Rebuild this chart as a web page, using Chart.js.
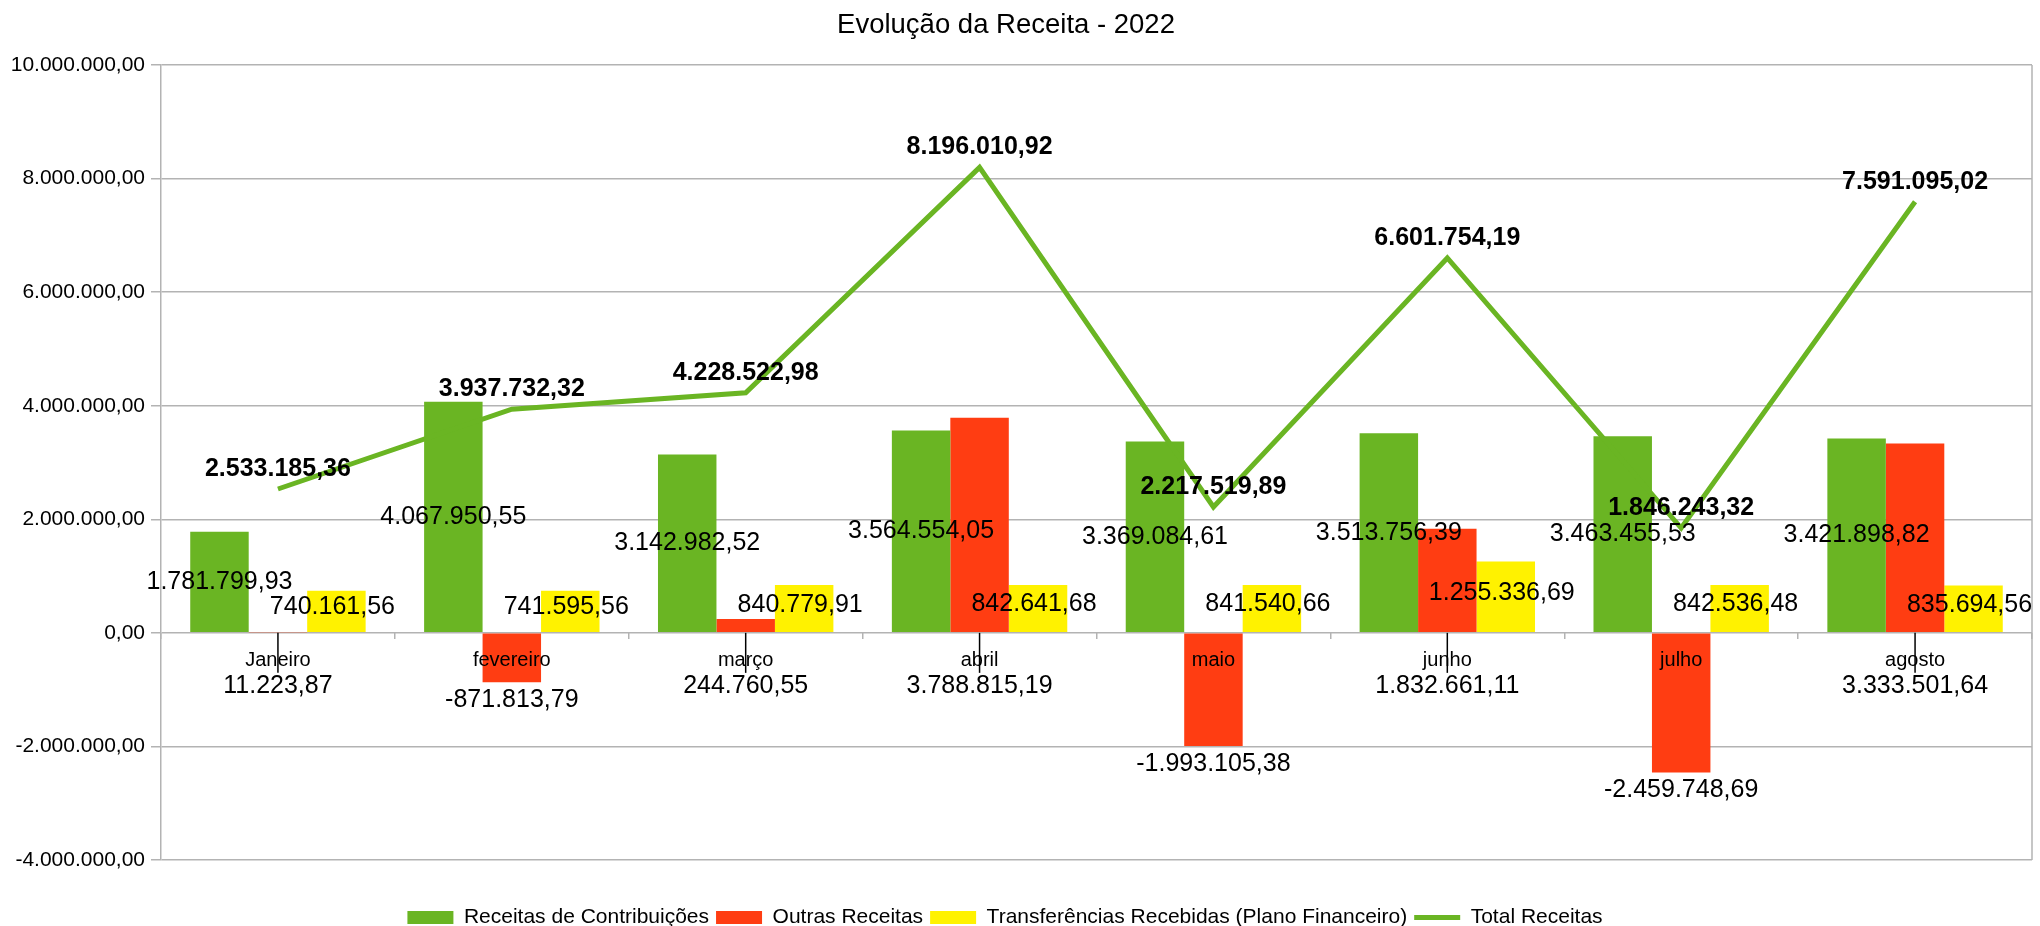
<!DOCTYPE html>
<html><head><meta charset="utf-8">
<script src="https://cdn.jsdelivr.net/npm/chart.js@4.4.1/dist/chart.umd.min.js"></script>
<style>html,body{margin:0;padding:0;background:#fff;overflow:hidden}#wrap{width:2040px;height:926px;position:relative}</style>
</head><body><div id="wrap"><canvas id="c" width="2040" height="926"></canvas></div>
<script>
const chartTitle = 'Evolução da Receita - 2022';
const months = ['Janeiro','fevereiro','março','abril','maio','junho','julho','agosto'];
const seriesNames = ['Receitas de Contribuições','Outras Receitas','Transferências Recebidas (Plano Financeiro)','Total Receitas'];
const contribuicoes = [1781799.93, 4067950.55, 3142982.52, 3564554.05, 3369084.61, 3513756.39, 3463455.53, 3421898.82];
const outras = [11223.87, -871813.79, 244760.55, 3788815.19, -1993105.38, 1832661.11, -2459748.69, 3333501.64];
const transferencias = [740161.56, 741595.56, 840779.91, 842641.68, 841540.66, 1255336.69, 842536.48, 835694.56];
const total = [2533185.36, 3937732.32, 4228522.98, 8196010.92, 2217519.89, 6601754.19, 1846243.32, 7591095.02];
const yMin = -4000000, yMax = 10000000, yStep = 2000000;

const GREEN = '#6ab523', RED = '#ff3d12', YELLOW = '#fff200', GRID = '#b3b3b3';
const FONT = '"Liberation Sans", Arial, sans-serif';

function fmt(v){
  const neg = v < 0; v = Math.abs(v);
  let [i,d] = v.toFixed(2).split('.');
  i = i.replace(/\B(?=(\d{3})+(?!\d))/g,'.');
  return (neg?'-':'') + i + ',' + d;
}

Chart.defaults.font.family = FONT;
Chart.defaults.color = '#000';

const labelPlugin = {
  id: 'valueLabels',
  afterDatasetsDraw(chart){
    const ctx = chart.ctx, ys = chart.scales.y, y0 = ys.getPixelForValue(0);
    ctx.save();
    ctx.fillStyle = '#000'; ctx.textAlign = 'center'; ctx.textBaseline = 'middle';
    chart.data.datasets.forEach((ds, di) => {
      const meta = chart.getDatasetMeta(di);
      meta.data.forEach((el, i) => {
        const v = ds.data[i], txt = fmt(v);
        let ty, tx = el.x;
        if (ds.type === 'line') {
          ctx.font = 'bold 25px ' + FONT; ty = el.y - 20;
        } else {
          ctx.font = '25px ' + FONT;
          if (di === 1) {
            if (v < 0) ty = el.y + 18;
            else {
              ty = y0 + 53;
              ctx.strokeStyle = '#000'; ctx.lineWidth = 1.5;
              ctx.beginPath(); ctx.moveTo(el.x, y0); ctx.lineTo(el.x, ty - 13); ctx.stroke();
            }
          } else if (di === 2) { ty = (el.y + el.base) / 2 - 4; tx = el.x - 4; }
          else ty = (el.y + el.base) / 2;
        }
        ctx.fillText(txt, tx, ty);
      });
    });
    ctx.restore();
  }
};

const framePlugin = {
  id: 'frame',
  afterLayout(chart){
    if (chart.legend) chart.legend.right -= 22;
    if (chart.titleBlock) chart.titleBlock.right -= 20;
  },
  beforeDatasetsDraw(chart){
    const {ctx, chartArea:a} = chart;
    ctx.save(); ctx.strokeStyle = GRID; ctx.lineWidth = 1.5;
    ctx.beginPath(); ctx.moveTo(a.right, a.top); ctx.lineTo(a.right, a.bottom); ctx.stroke();
    ctx.restore();
  }
};

new Chart(document.getElementById('c'), {
  data: {
    labels: months,
    datasets: [
      {type:'bar', label: seriesNames[0], data: contribuicoes, backgroundColor: GREEN, order: 1, xAxisID:'x'},
      {type:'bar', label: seriesNames[1], data: outras, backgroundColor: RED, order: 1, xAxisID:'x'},
      {type:'bar', label: seriesNames[2], data: transferencias, backgroundColor: YELLOW, order: 1, xAxisID:'x'},
      {type:'line', label: seriesNames[3], data: total, borderColor: GREEN, backgroundColor: GREEN, borderWidth: 5, pointRadius: 0, tension: 0, order: 0, xAxisID:'x'}
    ]
  },
  options: {
    responsive: false, animation: false, devicePixelRatio: 1,
    datasets: { bar: { categoryPercentage: 0.75, barPercentage: 1.0 } },
    layout: { padding: { left: 0, right: 8, top: 0, bottom: -12 } },
    scales: {
      x: {
        type: 'category', position: { y: 0 }, offset: true, z: 1,
        grid: { offset: true, drawOnChartArea: false, color: GRID, lineWidth: 1.5, tickLength: 6 },
        border: { display: false },
        ticks: { z: 1, font: { size: 20 }, color: '#000', padding: 10, autoSkip: false, maxRotation: 0 }
      },
      gap: {
        type: 'linear', position: 'bottom', display: true,
        grid: { display: false }, border: { display: false }, ticks: { display: false },
        afterFit(s){ s.height = 40; }
      },
      y: {
        min: yMin, max: yMax,
        ticks: { stepSize: yStep, callback: v => fmt(v), font: { size: 21 }, color: '#000', padding: 6 },
        grid: { color: GRID, lineWidth: 1.5, tickLength: 10 },
        border: { color: GRID, width: 1.5 },
        afterFit(s){ s.width = 161; }
      }
    },
    plugins: {
      title: { display: true, text: chartTitle, font: { size: 27.5, weight: 'normal' }, color: '#000', padding: { top: 9, bottom: 23 } },
      legend: {
        position: 'bottom',
        labels: {
          usePointStyle: true, pointStyleWidth: 46, boxHeight: 13, padding: 7,
          font: { size: 21 }, color: '#000',
          generateLabels(chart){
            const items = Chart.defaults.plugins.legend.labels.generateLabels(chart);
            items.forEach(it => {
              const ds = chart.data.datasets[it.datasetIndex];
              if (ds.type === 'line') { it.pointStyle = 'line'; it.lineWidth = 5; it.strokeStyle = ds.borderColor; }
              else { it.pointStyle = 'rect'; it.lineWidth = 0; it.fillStyle = ds.backgroundColor; it.strokeStyle = ds.backgroundColor; }
            });
            items.sort((a, b) => a.datasetIndex - b.datasetIndex);
            return items;
          }
        }
      },
      tooltip: { enabled: false }
    }
  },
  plugins: [framePlugin, labelPlugin]
});
</script></body></html>
